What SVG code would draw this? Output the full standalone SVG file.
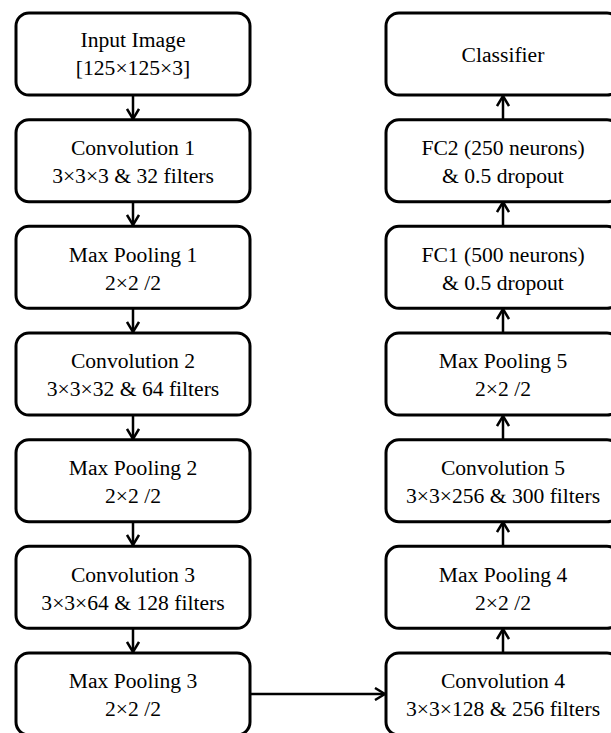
<svg xmlns="http://www.w3.org/2000/svg" width="611" height="733" viewBox="0 0 611 733">
<defs>
<style>
.box{fill:#fff;stroke:#000;stroke-width:3}
.t{fill:#000;text-anchor:middle}
.c{fill:none;stroke:#000;stroke-width:2.5}
</style>
<marker id="ah" viewBox="0 0 12 14" refX="11" refY="7" markerWidth="12" markerHeight="14" markerUnits="userSpaceOnUse" orient="auto">
<path d="M1,1 L11,7 L1,13" fill="none" stroke="#000" stroke-width="2.5"/>
</marker>
</defs>
<rect width="611" height="733" fill="#fff"/>
<g id="connectors">
<line class="c" x1="133" y1="95" x2="133" y2="119" marker-end="url(#ah)"/>
<line class="c" x1="133" y1="202" x2="133" y2="225" marker-end="url(#ah)"/>
<line class="c" x1="133" y1="308" x2="133" y2="332" marker-end="url(#ah)"/>
<line class="c" x1="133" y1="415" x2="133" y2="439" marker-end="url(#ah)"/>
<line class="c" x1="133" y1="522" x2="133" y2="545" marker-end="url(#ah)"/>
<line class="c" x1="133" y1="628" x2="133" y2="652" marker-end="url(#ah)"/>
<line class="c" x1="250" y1="694" x2="385" y2="694" marker-end="url(#ah)"/>
<line class="c" x1="503" y1="653" x2="503" y2="629" marker-end="url(#ah)"/>
<line class="c" x1="503" y1="546" x2="503" y2="522" marker-end="url(#ah)"/>
<line class="c" x1="503" y1="440" x2="503" y2="416" marker-end="url(#ah)"/>
<line class="c" x1="503" y1="333" x2="503" y2="309" marker-end="url(#ah)"/>
<line class="c" x1="503" y1="226" x2="503" y2="202" marker-end="url(#ah)"/>
<line class="c" x1="503" y1="120" x2="503" y2="96" marker-end="url(#ah)"/>
</g>
<g font-family="Liberation Serif, Times New Roman, DejaVu Serif, serif" font-size="21.6">
<g id="input">
<rect class="box" x="16" y="13" width="234" height="82" rx="13"/>
<text class="t" x="133" y="47">Input Image</text>
<text class="t" x="133" y="75">[125×125×3]</text>
</g>
<g id="conv1">
<rect class="box" x="16" y="119.7" width="234" height="82" rx="13"/>
<text class="t" x="133" y="155">Convolution 1</text>
<text class="t" x="133" y="183">3×3×3 &amp; 32 filters</text>
</g>
<g id="pool1">
<rect class="box" x="16" y="226.3" width="234" height="82" rx="13"/>
<text class="t" x="133" y="261.5">Max Pooling 1</text>
<text class="t" x="133" y="289.5">2×2 /2</text>
</g>
<g id="conv2">
<rect class="box" x="16" y="333" width="234" height="82" rx="13"/>
<text class="t" x="133" y="368">Convolution 2</text>
<text class="t" x="133" y="396">3×3×32 &amp; 64 filters</text>
</g>
<g id="pool2">
<rect class="box" x="16" y="439.7" width="234" height="82" rx="13"/>
<text class="t" x="133" y="475">Max Pooling 2</text>
<text class="t" x="133" y="503">2×2 /2</text>
</g>
<g id="conv3">
<rect class="box" x="16" y="546.3" width="234" height="82" rx="13"/>
<text class="t" x="133" y="581.5">Convolution 3</text>
<text class="t" x="133" y="609.5">3×3×64 &amp; 128 filters</text>
</g>
<g id="pool3">
<rect class="box" x="16" y="653" width="234" height="82" rx="13"/>
<text class="t" x="133" y="688">Max Pooling 3</text>
<text class="t" x="133" y="716">2×2 /2</text>
</g>
<g id="classifier">
<rect class="box" x="386" y="13" width="234" height="82" rx="13"/>
<text class="t" x="503" y="62">Classifier</text>
</g>
<g id="fc2">
<rect class="box" x="386" y="119.7" width="234" height="82" rx="13"/>
<text class="t" x="503" y="155">FC2 (250 neurons)</text>
<text class="t" x="503" y="183">&amp; 0.5 dropout</text>
</g>
<g id="fc1">
<rect class="box" x="386" y="226.3" width="234" height="82" rx="13"/>
<text class="t" x="503" y="261.5">FC1 (500 neurons)</text>
<text class="t" x="503" y="289.5">&amp; 0.5 dropout</text>
</g>
<g id="pool5">
<rect class="box" x="386" y="333" width="234" height="82" rx="13"/>
<text class="t" x="503" y="368">Max Pooling 5</text>
<text class="t" x="503" y="396">2×2 /2</text>
</g>
<g id="conv5">
<rect class="box" x="386" y="439.7" width="234" height="82" rx="13"/>
<text class="t" x="503" y="475">Convolution 5</text>
<text class="t" x="503" y="503">3×3×256 &amp; 300 filters</text>
</g>
<g id="pool4">
<rect class="box" x="386" y="546.3" width="234" height="82" rx="13"/>
<text class="t" x="503" y="581.5">Max Pooling 4</text>
<text class="t" x="503" y="609.5">2×2 /2</text>
</g>
<g id="conv4">
<rect class="box" x="386" y="653" width="234" height="82" rx="13"/>
<text class="t" x="503" y="688">Convolution 4</text>
<text class="t" x="503" y="716">3×3×128 &amp; 256 filters</text>
</g>
</g>
</svg>
